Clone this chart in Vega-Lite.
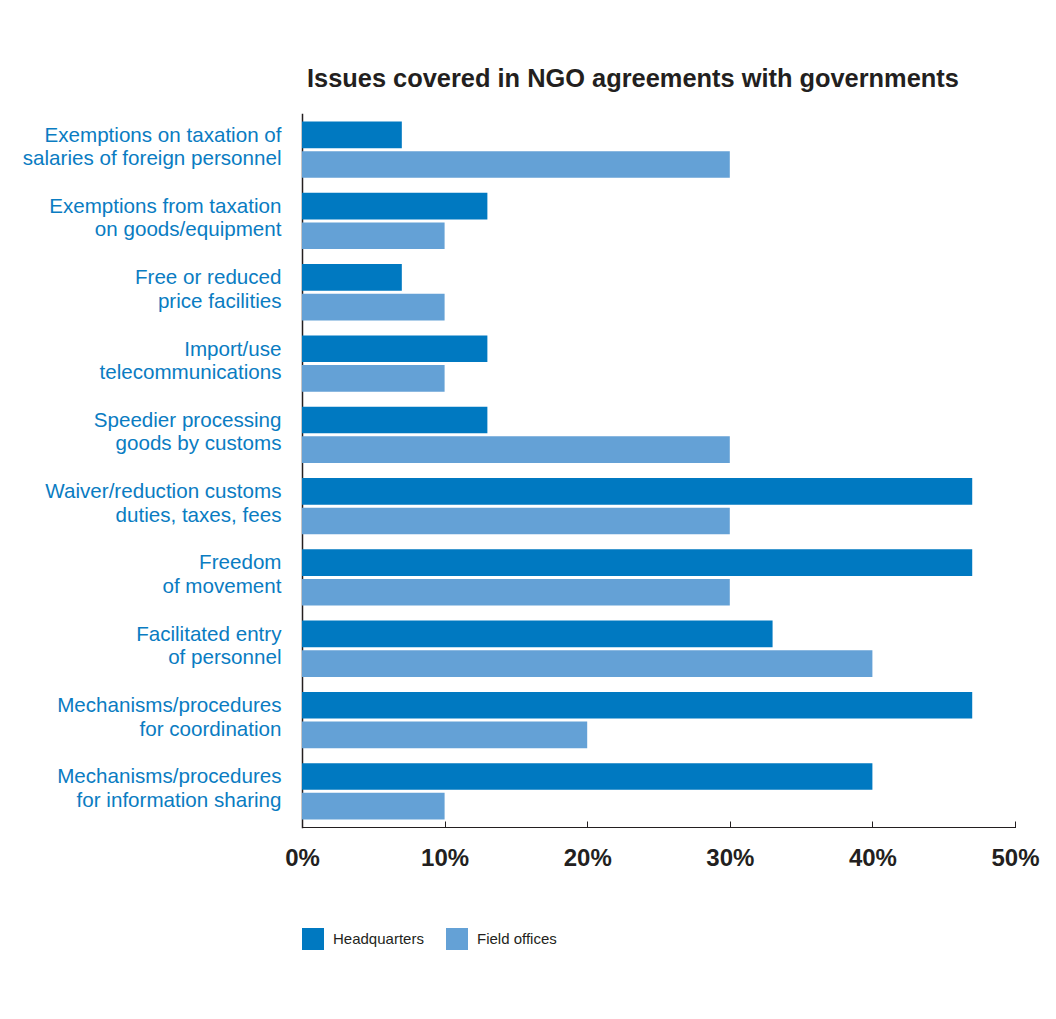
{
  "$schema": "https://vega.github.io/schema/vega-lite/v6.json",
  "autosize": {"type": "none"},
  "width": 713,
  "height": 713,
  "padding": {"left": 302, "top": 114, "right": 41, "bottom": 192},
  "background": "white",
  "title": {
    "text": "Issues covered in NGO agreements with governments",
    "anchor": "start",
    "frame": "group",
    "dx": 5,
    "offset": 22,
    "font": "Liberation Sans",
    "fontSize": 25.4,
    "fontWeight": "bold",
    "color": "#231f20"
  },
  "data": {
    "values": [
      {"issue": "Exemptions on taxation of\nsalaries of foreign personnel", "office": "Headquarters", "share": 0.07},
      {"issue": "Exemptions on taxation of\nsalaries of foreign personnel", "office": "Field offices", "share": 0.30},
      {"issue": "Exemptions from taxation\non goods/equipment", "office": "Headquarters", "share": 0.13},
      {"issue": "Exemptions from taxation\non goods/equipment", "office": "Field offices", "share": 0.10},
      {"issue": "Free or reduced\nprice facilities", "office": "Headquarters", "share": 0.07},
      {"issue": "Free or reduced\nprice facilities", "office": "Field offices", "share": 0.10},
      {"issue": "Import/use\ntelecommunications", "office": "Headquarters", "share": 0.13},
      {"issue": "Import/use\ntelecommunications", "office": "Field offices", "share": 0.10},
      {"issue": "Speedier processing\ngoods by customs", "office": "Headquarters", "share": 0.13},
      {"issue": "Speedier processing\ngoods by customs", "office": "Field offices", "share": 0.30},
      {"issue": "Waiver/reduction customs\nduties, taxes, fees", "office": "Headquarters", "share": 0.47},
      {"issue": "Waiver/reduction customs\nduties, taxes, fees", "office": "Field offices", "share": 0.30},
      {"issue": "Freedom\nof movement", "office": "Headquarters", "share": 0.47},
      {"issue": "Freedom\nof movement", "office": "Field offices", "share": 0.30},
      {"issue": "Facilitated entry\nof personnel", "office": "Headquarters", "share": 0.33},
      {"issue": "Facilitated entry\nof personnel", "office": "Field offices", "share": 0.40},
      {"issue": "Mechanisms/procedures\nfor coordination", "office": "Headquarters", "share": 0.47},
      {"issue": "Mechanisms/procedures\nfor coordination", "office": "Field offices", "share": 0.20},
      {"issue": "Mechanisms/procedures\nfor information sharing", "office": "Headquarters", "share": 0.40},
      {"issue": "Mechanisms/procedures\nfor information sharing", "office": "Field offices", "share": 0.10}
    ]
  },
  "mark": {"type": "bar"},
  "encoding": {
    "y": {
      "field": "issue",
      "type": "nominal",
      "sort": null,
      "scale": {"paddingInner": 0.21, "paddingOuter": 0.105},
      "axis": {
        "title": null,
        "ticks": false,
        "labelExpr": "split(datum.label, '\\n')",
        "labelFont": "Liberation Sans",
        "labelFontSize": 20.6,
        "labelLineHeight": 23.5,
        "labelColor": "#0a7cc2",
        "labelPadding": 21,
        "labelOffset": -14,
        "labelLimit": 400,
        "domainColor": "#231f20",
        "domainWidth": 1.5
      }
    },
    "yOffset": {
      "field": "office",
      "type": "nominal",
      "sort": ["Headquarters", "Field offices"],
      "scale": {"paddingInner": 0.1}
    },
    "x": {
      "field": "share",
      "type": "quantitative",
      "scale": {"domain": [0, 0.5]},
      "axis": {
        "title": null,
        "values": [0, 0.1, 0.2, 0.3, 0.4, 0.5],
        "format": ".0%",
        "grid": false,
        "tickSize": -6,
        "tickColor": "#231f20",
        "domainColor": "#231f20",
        "domainWidth": 1,
        "labelFont": "Liberation Sans",
        "labelFontSize": 24,
        "labelFontWeight": "bold",
        "labelColor": "#231f20",
        "labelPadding": 25,
        "labelFlush": false
      }
    },
    "color": {
      "field": "office",
      "type": "nominal",
      "sort": ["Headquarters", "Field offices"],
      "scale": {"domain": ["Headquarters", "Field offices"], "range": ["#0079c1", "#64a1d6"]},
      "legend": {
        "title": null,
        "orient": "none",
        "direction": "horizontal",
        "legendX": 0,
        "legendY": 814,
        "padding": 0,
        "symbolType": "square",
        "symbolSize": 484,
        "symbolStrokeWidth": 0,
        "symbolOpacity": 1,
        "labelFont": "Liberation Sans",
        "labelFontSize": 15,
        "labelColor": "#231f20",
        "labelOffset": 9,
        "columnPadding": 22
      }
    }
  },
  "config": {
    "view": {"stroke": null},
    "axis": {"domainCap": "square"}
  }
}
